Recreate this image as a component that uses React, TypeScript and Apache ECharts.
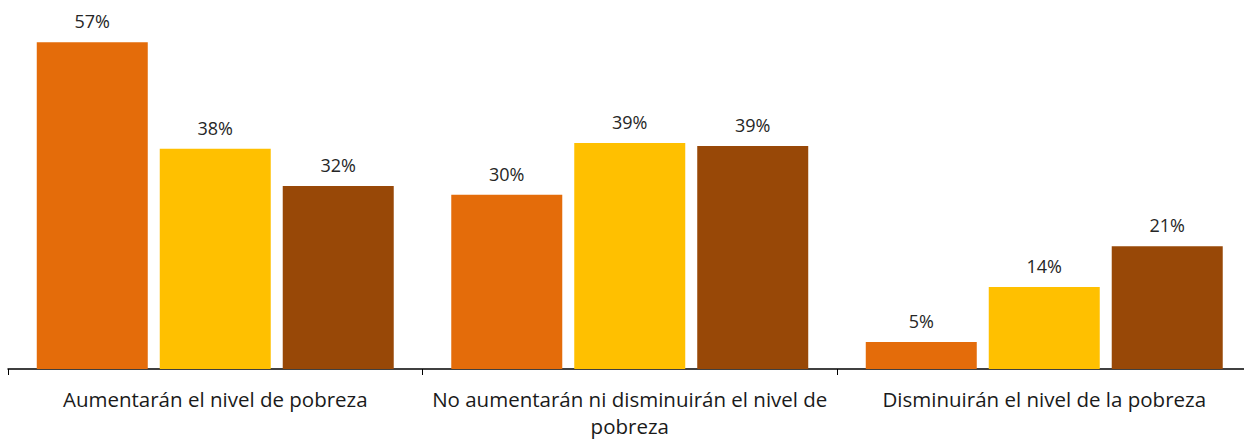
import React, { useEffect, useRef } from "react";
import * as echarts from "echarts";

const categories = [
  "Aumentarán el nivel de pobreza",
  "No aumentarán ni disminuirán el nivel de\npobreza",
  "Disminuirán el nivel de la pobreza",
];
const seriesA = [57.0, 30.4, 4.7];
const seriesB = [38.4, 39.4, 14.3];
const seriesC = [31.9, 38.9, 21.4];
const seriesNames = ["Serie 1", "Serie 2", "Serie 3"];
const colors = ["#E46C0A", "#FFC000", "#984807"];

export default function App() {
  const ref = useRef<HTMLDivElement>(null);
  useEffect(() => {
    if (!ref.current) return;
    const chart = echarts.init(ref.current, undefined, { renderer: "svg" });
    const font = "'Open Sans', 'Noto Sans', sans-serif";
    const mk = (name: string, data: number[], color: string) => ({
      name,
      type: "bar",
      data,
      barWidth: 111,
      barGap: "10.8%",
      itemStyle: { color },
      label: {
        show: true,
        position: "top",
        distance: 12,
        formatter: (p: any) => Math.round(p.value) + "%",
        color: "#262626",
        fontSize: 18,
        fontFamily: font,
      },
    });
    chart.setOption({
      animation: false,
      grid: { left: 8, top: 25, width: 1243.5, height: 344, outerBoundsMode: "none", containLabel: false },
      xAxis: {
        type: "category",
        data: categories,
        axisLine: { lineStyle: { color: "#000", width: 1.5 } },
        axisTick: { show: true, length: 6, lineStyle: { color: "#000" } },
        axisLabel: {
          color: "#1a1a1a",
          fontSize: 20.5,
          fontFamily: font,
          margin: 16,
          lineHeight: 27,
          interval: 0,
        },
      },
      yAxis: {
        type: "value",
        min: 0,
        max: 60,
        show: false,
        splitLine: { show: false },
      },
      series: [
        mk(seriesNames[0], seriesA, colors[0]),
        mk(seriesNames[1], seriesB, colors[1]),
        mk(seriesNames[2], seriesC, colors[2]),
      ],
    });
    return () => chart.dispose();
  }, []);
  return (
    <div
      ref={ref}
      style={{ position: "absolute", left: 0, top: 0, width: 1244, height: 440, background: "#fff" }}
    />
  );
}
